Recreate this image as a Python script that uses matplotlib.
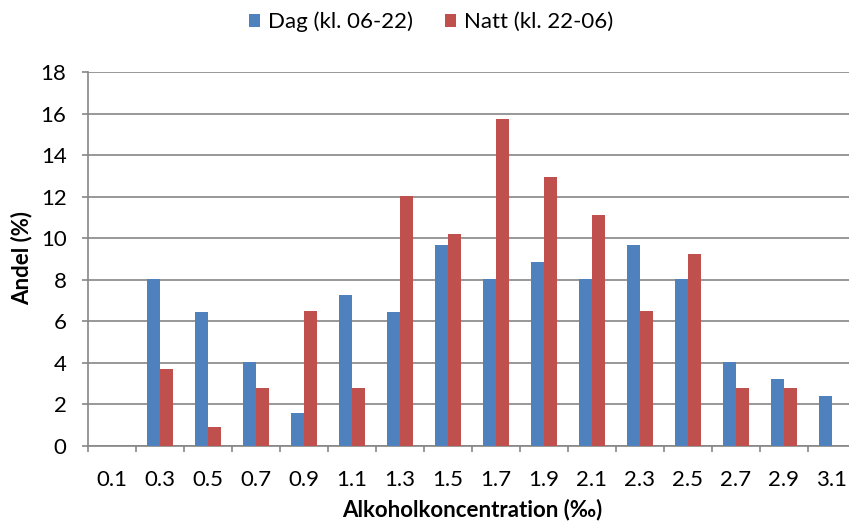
import matplotlib.pyplot as plt
import numpy as np

plt.rcParams['font.family'] = ['Lato', 'DejaVu Sans']

# Andel per promillenivå, dag resp. natt
kategorier = ["0.1", "0.3", "0.5", "0.7", "0.9", "1.1", "1.3", "1.5",
              "1.7", "1.9", "2.1", "2.3", "2.5", "2.7", "2.9", "3.1"]
dag = [0, 8.06, 6.45, 4.03, 1.61, 7.26, 6.45, 9.68,
       8.06, 8.87, 8.06, 9.68, 8.06, 4.03, 3.23, 2.42]
natt = [0, 3.70, 0.93, 2.78, 6.48, 2.78, 12.04, 10.19,
        15.74, 12.96, 11.11, 6.48, 9.26, 2.78, 2.78, 0]

BLA = "#4F81BD"
ROD = "#C0504D"
GRA = "#868686"
FS = 16

fig = plt.figure(figsize=(8.49, 5.24), dpi=100)
ax = fig.add_axes([0.1037, 0.1489, 0.9043, 0.7137])

x = np.arange(len(kategorier))
w = 0.277
ax.bar(x - w / 2, dag, w, color=BLA, label="Dag (kl. 06-22)", zorder=3)
ax.bar(x + w / 2, natt, w, color=ROD, label="Natt (kl. 22-06)", zorder=3)

ax.set_xlim(-0.5, len(kategorier) - 0.5)
ax.set_ylim(0, 18)
ax.set_yticks(range(0, 19, 2))
ax.yaxis.grid(True, color=GRA, linewidth=1.2, zorder=0)

# kategorietiketter mellan tickmarkeringarna
ax.set_xticks(x)
ax.set_xticklabels(kategorier)
ax.set_xticks(np.arange(-0.5, len(kategorier)), minor=True)
ax.tick_params(axis="x", which="major", length=0, pad=17, labelsize=FS)
ax.tick_params(axis="x", which="minor", length=4.5, width=1.2, color=GRA)
ax.tick_params(axis="y", length=4.5, width=1.2, color=GRA, pad=11, labelsize=FS)

for side in ["top", "right"]:
    ax.spines[side].set_visible(False)
for side in ["left", "bottom"]:
    ax.spines[side].set_color(GRA)
    ax.spines[side].set_linewidth(1.2)

fig.text(0.025, 0.508, "Andel (%)", rotation=90, ha="center", va="center",
         fontsize=FS, fontweight="bold")
fig.text(0.556, 0.027, "Alkoholkoncentration (‰)", ha="center", va="center",
         fontsize=FS, fontweight="bold")

fig.legend(loc="center", bbox_to_anchor=(0.508, 0.958), ncol=2, frameon=False,
           fontsize=FS, handlelength=0.5, handleheight=0.5, handletextpad=0.36,
           columnspacing=1.45)

fig.savefig("out.png", dpi=100)
